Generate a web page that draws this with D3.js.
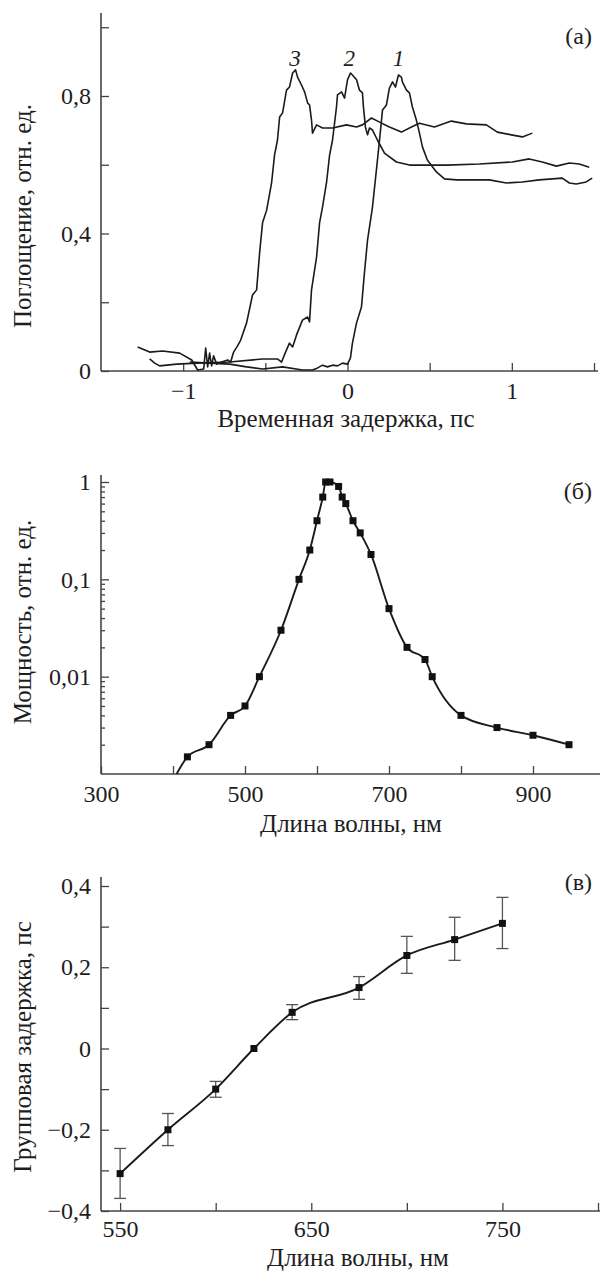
<!DOCTYPE html>
<html>
<head>
<meta charset="utf-8">
<script src="https://cdn.jsdelivr.net/npm/d3@7"></script>
<style>
  body { margin: 0; background: #fff; }
  svg { display: block; }
</style>
</head>
<body>
<svg id="chart" width="600" height="1272"></svg>
<script>
// ---- panel (а): absorption vs delay, three curves [delay ps, abs] ----
const curve1 = [
  [-0.960,0.026],[-0.839,0.023],[-0.717,0.020],[-0.614,0.012],[-0.517,0.006],[-0.395,0.012],
  [-0.274,0.003],[-0.213,0.003],[-0.182,0.009],[-0.152,0.017],[-0.122,0.012],[-0.091,0.017],
  [-0.061,0.015],[-0.030,0.023],[0.000,0.020],[0.018,0.038],[0.030,0.081],[0.055,0.140],
  [0.085,0.186],[0.103,0.285],[0.122,0.381],[0.152,0.477],[0.176,0.585],[0.195,0.672],
  [0.213,0.759],[0.237,0.774],[0.255,0.823],[0.274,0.841],[0.292,0.826],[0.310,0.861],
  [0.328,0.855],[0.334,0.841],[0.359,0.817],[0.377,0.809],[0.395,0.768],[0.419,0.730],
  [0.438,0.692],[0.456,0.652],[0.486,0.614],[0.541,0.579],[0.590,0.559],[0.663,0.556],
  [0.863,0.556],[0.967,0.547],[1.064,0.550],[1.167,0.556],[1.307,0.561],[1.350,0.547],
  [1.392,0.544],[1.453,0.550],[1.489,0.561]
];
const curve2 = [
  [-1.204,0.035],[-1.173,0.023],[-1.143,0.015],[-1.040,0.020],[-0.918,0.023],[-0.717,0.026],
  [-0.517,0.035],[-0.426,0.035],[-0.401,0.026],[-0.377,0.055],[-0.353,0.081],[-0.334,0.070],
  [-0.310,0.105],[-0.274,0.148],[-0.243,0.157],[-0.231,0.143],[-0.219,0.236],[-0.188,0.332],
  [-0.170,0.431],[-0.152,0.477],[-0.128,0.547],[-0.109,0.628],[-0.091,0.672],[-0.067,0.768],
  [-0.061,0.803],[-0.036,0.812],[-0.018,0.794],[0.000,0.847],[0.018,0.867],[0.030,0.861],
  [0.055,0.847],[0.073,0.817],[0.091,0.809],[0.097,0.768],[0.109,0.710],[0.122,0.687],
  [0.134,0.707],[0.152,0.701],[0.182,0.672],[0.225,0.634],[0.298,0.608],[0.377,0.599],
  [0.498,0.599],[0.602,0.599],[0.802,0.602],[1.003,0.608],[1.106,0.617],[1.185,0.608],
  [1.271,0.596],[1.350,0.605],[1.410,0.602],[1.471,0.593]
];
const curve3 = [
  [-1.277,0.070],[-1.204,0.055],[-1.125,0.058],[-1.021,0.052],[-0.948,0.032],[-0.912,0.003],
  [-0.875,0.006],[-0.863,0.067],[-0.851,0.012],[-0.839,0.052],[-0.827,0.015],[-0.815,0.044],
  [-0.796,0.020],[-0.766,0.026],[-0.729,0.032],[-0.711,0.026],[-0.693,0.055],[-0.669,0.073],
  [-0.650,0.090],[-0.614,0.140],[-0.578,0.221],[-0.553,0.236],[-0.535,0.343],[-0.517,0.431],
  [-0.492,0.468],[-0.462,0.547],[-0.444,0.628],[-0.426,0.672],[-0.413,0.739],[-0.395,0.751],
  [-0.371,0.817],[-0.353,0.826],[-0.334,0.867],[-0.316,0.876],[-0.304,0.855],[-0.280,0.832],
  [-0.261,0.812],[-0.243,0.780],[-0.231,0.774],[-0.219,0.730],[-0.213,0.692],[-0.188,0.716],
  [-0.152,0.707],[-0.091,0.707],[-0.006,0.716],[0.055,0.710],[0.091,0.716],[0.146,0.736],
  [0.195,0.724],[0.255,0.710],[0.328,0.695],[0.389,0.710],[0.438,0.721],[0.529,0.710],
  [0.632,0.727],[0.723,0.719],[0.845,0.716],[0.912,0.695],[0.997,0.687],[1.064,0.681],
  [1.125,0.692]
];
const curveNames = ['1', '2', '3'];
const curveNamePos = [[0.31, 0.88], [0.01, 0.88], [-0.32, 0.88]];
const xTicksA = [-1, -0.5, 0, 0.5, 1, 1.5];
const xLabelsA = [-1, 0, 1];
const yTicksA = [0, 0.2, 0.4, 0.6, 0.8, 1.0];
const yLabelsA = [0, 0.4, 0.8];

// ---- panel (б): spectrum, log scale ----
const wavelengthB = [420, 450, 480, 500, 520, 550, 575, 590, 600, 608, 612, 618, 630, 635, 640,
  650, 660, 675, 700, 725, 750, 760, 800, 850, 900, 950];
const powerB = [0.0015, 0.002, 0.004, 0.005, 0.01, 0.03, 0.1, 0.2, 0.4, 0.7, 1.0, 1.0, 0.9, 0.7, 0.6,
  0.4, 0.3, 0.18, 0.05, 0.02, 0.015, 0.01, 0.004, 0.003, 0.0025, 0.002];
const fitStartB = [405, 0.001]; // smooth fit continues down to the axis
const xTicksB = [300, 400, 500, 600, 700, 800, 900];
const xLabelsB = [300, 500, 700, 900];
const yMajorB = [0.01, 0.1, 1];

// ---- panel (в): group delay ----
const wavelengthC = [550, 575, 600, 620, 640, 675, 700, 725, 750];
const delayC = [-0.308, -0.2, -0.1, 0, 0.089, 0.15, 0.229, 0.268, 0.308];
const errLowC = [-0.369, -0.239, -0.12, null, 0.071, 0.121, 0.185, 0.217, 0.246];
const errHighC = [-0.246, -0.16, -0.081, null, 0.108, 0.177, 0.276, 0.323, 0.372];
const xTicksC = [550, 600, 650, 700, 750, 800];
const xLabelsC = [550, 650, 750];
const yTicksC = [-0.4, -0.3, -0.2, -0.1, 0, 0.1, 0.2, 0.3, 0.4];
const yLabelsC = [-0.4, -0.2, 0, 0.2, 0.4];

const svg = d3.select('#chart');
const ru = d3.formatLocale({ decimal: ',', thousands: ' ', grouping: [3], currency: ['', ''], minus: '\u2212' });
const fmt = ru.format('~g');
const serif = '"Liberation Serif", "Times New Roman", serif';
const axisColor = '#444';
const ink = '#1b1b1b';
const tickFs = 24;   // tick labels
const titleFs = 25;  // axis titles
const left = 101;

function styleAxis(g) {
  g.attr('font-family', serif).attr('font-size', tickFs);
  g.select('.domain').remove();
  g.selectAll('.tick line').attr('stroke', axisColor).attr('stroke-width', 1.3);
  g.selectAll('.tick text').attr('fill', '#1e1e1e');
}

function frame(top, bottom, right) {
  svg.append('line').attr('x1', left).attr('x2', left).attr('y1', top).attr('y2', bottom)
    .attr('stroke', axisColor).attr('stroke-width', 1.6);
  svg.append('line').attr('x1', left).attr('x2', right).attr('y1', bottom).attr('y2', bottom)
    .attr('stroke', axisColor).attr('stroke-width', 1.6);
}

function text(x, y, str, opts = {}) {
  const t = svg.append('text').attr('x', x).attr('y', y).text(str)
    .attr('font-family', serif).attr('font-size', opts.size || titleFs).attr('fill', '#1e1e1e')
    .attr('text-anchor', opts.anchor || 'middle');
  if (opts.rotate) t.attr('transform', `rotate(-90,${x},${y})`);
  if (opts.italic) t.attr('font-style', 'italic');
  return t;
}

// ================= (а) =================
const xA = d3.scaleLinear().domain([-1.5, 1.5]).range([left, 594]);
const yA = d3.scaleLinear().domain([0, 1]).range([371, 27.25]);

svg.append('g').attr('transform', 'translate(0,371)')
  .call(d3.axisBottom(xA).tickValues(xTicksA).tickSize(-8).tickPadding(11)
    .tickFormat(d => xLabelsA.includes(d) ? fmt(d) : ''))
  .call(styleAxis);
svg.append('g').attr('transform', `translate(${left},0)`)
  .call(d3.axisLeft(yA).tickValues(yTicksA).tickSize(-8).tickPadding(10)
    .tickFormat(d => yLabelsA.includes(d) ? fmt(d) : ''))
  .call(styleAxis);
frame(13, 371, 598);

const lineA = d3.line().x(d => xA(d[0])).y(d => yA(d[1]));
[curve1, curve2, curve3].forEach(c => {
  svg.append('path').datum(c).attr('d', lineA).attr('fill', 'none')
    .attr('stroke', ink).attr('stroke-width', 1.6).attr('stroke-linejoin', 'round');
});
curveNames.forEach((n, i) => {
  text(xA(curveNamePos[i][0]), 66, n, { size: 23, italic: true });
});
text(592, 44, '(а)', { anchor: 'end', size: 24 });
text(346, 427, 'Временная задержка, пс');
text(31, 216, 'Поглощение, отн. ед.', { rotate: true });

// ================= (б) =================
const xB = d3.scaleLinear().domain([300, 1000]).range([left, 605]);
const yB = d3.scaleLog().domain([0.001, 1]).range([774, 482]);
const minorB = [];
[0.001, 0.01, 0.1].forEach(dec => { for (let k = 2; k <= 9; k++) minorB.push(dec * k); });

svg.append('g').attr('transform', 'translate(0,774)')
  .call(d3.axisBottom(xB).tickValues(xTicksB).tickSize(-8).tickPadding(11)
    .tickFormat(d => xLabelsB.includes(d) ? d : ''))
  .call(styleAxis);
svg.append('g').attr('transform', `translate(${left},0)`)
  .call(d3.axisLeft(yB).tickValues(yMajorB).tickSize(-8).tickPadding(10).tickFormat(fmt))
  .call(styleAxis);
svg.append('g').attr('transform', `translate(${left},0)`)
  .call(d3.axisLeft(yB).tickValues(minorB).tickSize(-4).tickFormat(''))
  .call(styleAxis);
frame(475, 774, 600);

const ptsB = wavelengthB.map((w, i) => [w, powerB[i]]);
const lineB = d3.line().x(d => xB(d[0])).y(d => yB(d[1])).curve(d3.curveMonotoneX);
svg.append('path').datum([fitStartB, ...ptsB]).attr('d', lineB).attr('fill', 'none')
  .attr('stroke', ink).attr('stroke-width', 1.9);
svg.append('g').selectAll('rect').data(ptsB).join('rect')
  .attr('x', d => xB(d[0]) - 3.5).attr('y', d => yB(d[1]) - 3.5)
  .attr('width', 7).attr('height', 7).attr('fill', '#111');
text(592, 499, '(б)', { anchor: 'end', size: 24 });
text(351, 832, 'Длина волны, нм');
text(31, 622, 'Мощность, отн. ед.', { rotate: true });

// ================= (в) =================
const xC = d3.scaleLinear().domain([540, 800]).range([left, 598]);
const yC = d3.scaleLinear().domain([-0.4, 0.4]).range([1211, 886]);

svg.append('g').attr('transform', 'translate(0,1211)')
  .call(d3.axisBottom(xC).tickValues(xTicksC).tickSize(-8).tickPadding(9)
    .tickFormat(d => xLabelsC.includes(d) ? d : ''))
  .call(styleAxis);
svg.append('g').attr('transform', `translate(${left},0)`)
  .call(d3.axisLeft(yC).tickValues(yTicksC).tickSize(-8).tickPadding(10)
    .tickFormat(d => yLabelsC.some(v => Math.abs(v - d) < 1e-9) ? fmt(d) : ''))
  .call(styleAxis);
frame(877, 1211, 600);

const ptsC = wavelengthC.map((w, i) => ({ w, v: delayC[i], lo: errLowC[i], hi: errHighC[i] }));
const errG = svg.append('g').attr('stroke', '#555').attr('stroke-width', 1.3);
ptsC.filter(d => d.lo !== null).forEach(d => {
  const x = xC(d.w);
  errG.append('line').attr('x1', x).attr('x2', x).attr('y1', yC(d.lo)).attr('y2', yC(d.hi));
  errG.append('line').attr('x1', x - 6).attr('x2', x + 6).attr('y1', yC(d.lo)).attr('y2', yC(d.lo));
  errG.append('line').attr('x1', x - 6).attr('x2', x + 6).attr('y1', yC(d.hi)).attr('y2', yC(d.hi));
});
const lineC = d3.line().x(d => xC(d.w)).y(d => yC(d.v)).curve(d3.curveMonotoneX);
svg.append('path').datum(ptsC).attr('d', lineC).attr('fill', 'none')
  .attr('stroke', ink).attr('stroke-width', 1.9);
svg.append('g').selectAll('rect').data(ptsC).join('rect')
  .attr('x', d => xC(d.w) - 3.5).attr('y', d => yC(d.v) - 3.5)
  .attr('width', 7).attr('height', 7).attr('fill', '#111');
text(592, 890, '(в)', { anchor: 'end', size: 24 });
text(358, 1266, 'Длина волны, нм');
text(31, 1047, 'Групповая задержка, пс', { rotate: true });
</script>
</body>
</html>
